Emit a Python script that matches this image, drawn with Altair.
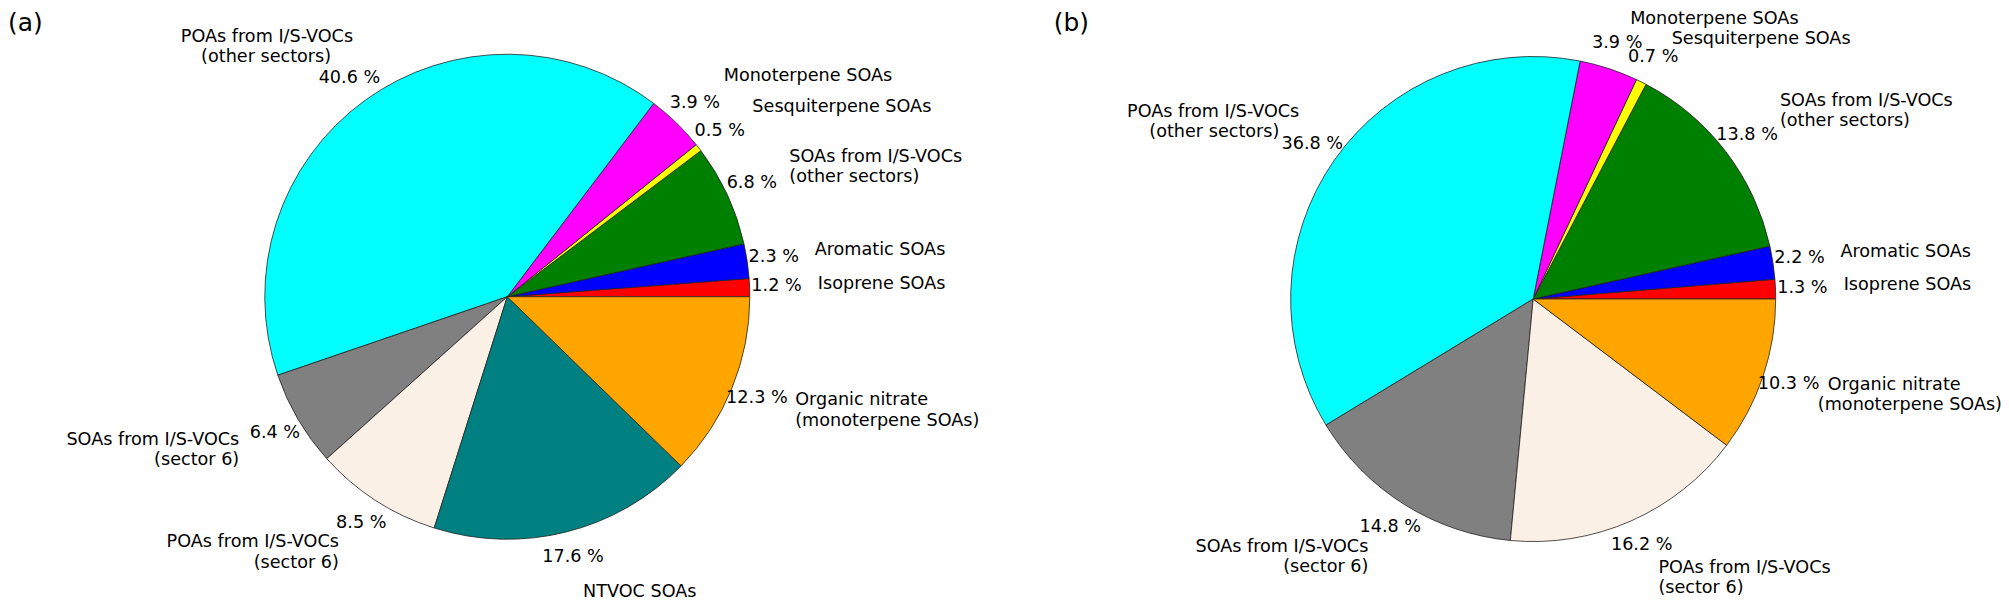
import math
import altair as alt
import pandas as pd

# ---------------- data ----------------
categories_a = [
    "Isoprene SOAs",
    "Aromatic SOAs",
    "SOAs from I/S-VOCs\n(other sectors)",
    "Sesquiterpene SOAs",
    "Monoterpene SOAs",
    "POAs from I/S-VOCs\n(other sectors)",
    "SOAs from I/S-VOCs\n(sector 6)",
    "POAs from I/S-VOCs\n(sector 6)",
    "NTVOC SOAs",
    "Organic nitrate\n(monoterpene SOAs)",
]
values_a = [1.2, 2.3, 6.8, 0.5, 3.9, 40.6, 6.4, 8.5, 17.6, 12.3]

categories_b = [
    "Isoprene SOAs",
    "Aromatic SOAs",
    "SOAs from I/S-VOCs\n(other sectors)",
    "Sesquiterpene SOAs",
    "Monoterpene SOAs",
    "POAs from I/S-VOCs\n(other sectors)",
    "SOAs from I/S-VOCs\n(sector 6)",
    "POAs from I/S-VOCs\n(sector 6)",
    "Organic nitrate\n(monoterpene SOAs)",
]
values_b = [1.3, 2.2, 13.8, 0.7, 3.9, 36.8, 14.8, 16.2, 10.3]

color_domain = categories_a
color_range = ["#ff0000", "#0000ff", "#008000", "#ffff00", "#ff00ff",
               "#00ffff", "#808080", "#faf0e6", "#008080", "#ffa500"]

panel_titles = ["(a)", "(b)"]

# ---------------- layout (page pixel coordinates) ----------------
PAGE_W, PAGE_H, MARGIN = 2009, 602, 8
W, H = PAGE_W - MARGIN, PAGE_H - MARGIN
R = 243.5            # pie radius
R_PCT = 270.5        # percentage label distance
R_LAB = 312.0        # category label distance (horizontal)
R_LAB_Y = 307.3      # category label distance (vertical)
CENTER_A = (509.3, 296.7)
CENTER_B = (1539.3, 299.0)
FONT = "DejaVu Sans"
FS = 17.7
LH = 20.2
TITLE_BASELINE = 29.5

# manual label tweaks (dx of line 1, dx of line 2, dy), as in the original figure
TWEAKS_A = {
    "POAs from I/S-VOCs\n(other sectors)": (28, 6, 0),
}
TWEAKS_B = {
    "POAs from I/S-VOCs\n(other sectors)": (21, 1, 0),
    "Organic nitrate\n(monoterpene SOAs)": (0, -10, 0),
    "Sesquiterpene SOAs": (0, 0, 16),
    "Monoterpene SOAs": (0, 0, 12),
}

xs = alt.Scale(domain=[MARGIN, PAGE_W], range=[0, W])
ys = alt.Scale(domain=[MARGIN, PAGE_H], range=[0, H])
theta_scale = alt.Scale(domain=[0, 1], range=[math.pi / 2, math.pi / 2 - 2 * math.pi])
color_scale = alt.Scale(domain=color_domain, range=color_range)


def X(field):
    return alt.X(field, type="quantitative", scale=xs, axis=None)


def Y(field):
    return alt.Y(field, type="quantitative", scale=ys, axis=None)


def tweak_expr(cats, tweaks, k):
    arr = [str(tweaks.get(c, (0, 0, 0))[k]) for c in cats]
    return "[" + ",".join(arr) + "][datum.idx]"


def pie_layers(cats, vals, center, tweaks):
    cx, cy = center
    df = pd.DataFrame({"idx": list(range(len(cats))), "category": cats, "value": vals})
    base = (
        alt.Chart(df)
        .transform_joinaggregate(total="sum(value)")
        .transform_window(cum="sum(value)", sort=[alt.SortField("idx")], frame=[None, 0])
        .transform_calculate(
            start="(datum.cum - datum.value) / datum.total",
            end="datum.cum / datum.total",
            mid="(datum.cum - datum.value / 2) / datum.total",
            pct="format(datum.value, '.1f') + ' %'",
            parts="split(datum.category, '\\n')",
            cx=str(cx),
            cy=str(cy),
            tdx1=tweak_expr(cats, tweaks, 0),
            tdx2=tweak_expr(cats, tweaks, 1),
            tdy=tweak_expr(cats, tweaks, 2),
        )
        .transform_calculate(
            ang="2 * PI * datum.mid",
            nl="length(datum.parts)",
            line1="datum.parts[0]",
            line2="length(datum.parts) > 1 ? datum.parts[1] : ''",
        )
        .transform_calculate(
            side="cos(datum.ang)",
            px=f"datum.cx + {R_PCT} * cos(datum.ang)",
            py=f"datum.cy - {R_PCT} * sin(datum.ang) - 0.5",
            lx=f"datum.cx + {R_LAB} * cos(datum.ang)",
            ly=f"datum.cy - {R_LAB_Y} * sin(datum.ang) - 1.5 + datum.tdy",
        )
        .transform_calculate(
            lx1="datum.lx + datum.tdx1",
            lx2="datum.lx + datum.tdx2",
            ly1=f"datum.ly - (datum.nl - 1) * {LH} / 2",
            ly2=f"datum.ly + {LH} / 2",
        )
    )
    arcs = base.mark_arc(radius=R, stroke="#222222", strokeWidth=0.8).encode(
        theta=alt.Theta("start:Q", scale=theta_scale, stack=False),
        theta2="end:Q",
        color=alt.Color("category:N", scale=color_scale, legend=None),
        x=X("cx"),
        y=Y("cy"),
    )
    txt = dict(baseline="middle", font=FONT, fontSize=FS, color="black")
    pct = base.mark_text(align="center", **txt).encode(
        x=X("px"), y=Y("py"), text="pct:N"
    )
    layers = [arcs, pct]
    for cond, align in (("datum.side >= 0", "left"), ("datum.side < 0", "right")):
        side_base = base.transform_filter(cond)
        layers.append(
            side_base.mark_text(align=align, **txt).encode(
                x=X("lx1"), y=Y("ly1"), text="line1:N"
            )
        )
        layers.append(
            side_base.transform_filter("datum.nl > 1").mark_text(align=align, **txt).encode(
                x=X("lx2"), y=Y("ly2"), text="line2:N"
            )
        )
    return layers


def panel_title(txt, x):
    df = pd.DataFrame({"t": [txt], "tx": [x], "ty": [TITLE_BASELINE]})
    return alt.Chart(df).mark_text(
        align="left", baseline="alphabetic", font=FONT, fontSize=25, color="black"
    ).encode(text="t:N", x=X("tx"), y=Y("ty"))


layers = (
    pie_layers(categories_a, values_a, CENTER_A, TWEAKS_A)
    + pie_layers(categories_b, values_b, CENTER_B, TWEAKS_B)
    + [panel_title(panel_titles[0], 8), panel_title(panel_titles[1], 1058)]
)

chart = (
    alt.layer(*layers)
    .properties(width=W, height=H, autosize="none", padding=0, background="white")
    .configure_view(strokeWidth=0)
)

chart.save("out.html", embed_options={"renderer": "svg", "actions": False})
